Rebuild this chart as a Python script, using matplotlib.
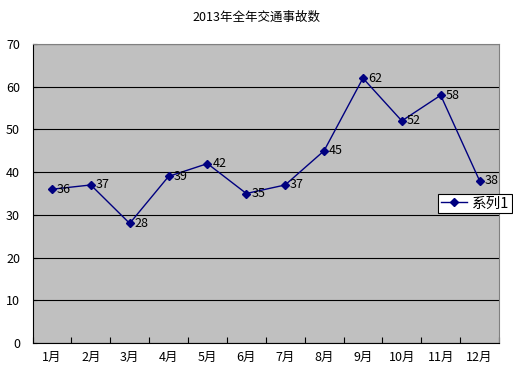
import matplotlib
matplotlib.use("Agg")
import matplotlib.pyplot as plt
import numpy as np

plt.rcParams['font.family'] = ['Noto Sans CJK SC', 'DejaVu Sans']

months = ['1月', '2月', '3月', '4月', '5月', '6月', '7月', '8月', '9月', '10月', '11月', '12月']
values = [36, 37, 28, 39, 42, 35, 37, 45, 62, 52, 58, 38]
series_name = '系列1'
title = '2013年全年交通事故数'

fig = plt.figure(figsize=(5.13, 3.79), dpi=100)
ax = fig.add_axes([32.5/513, 1-343/379, (499-32.5)/513, (343-44)/379])
ax.set_facecolor('#C0C0C0')

x = np.arange(len(months)) + 0.5
line, = ax.plot(x, values, color='#000080', marker='D', markersize=4, linewidth=1.0, label=series_name, zorder=3)
for xi, v in zip(x, values):
    ax.annotate(str(v), (xi, v), xytext=(3.5, 0), textcoords='offset points', ha='left', va='center', fontsize=9, color='black', zorder=4)

ax.set_xlim(0, 12)
ax.set_ylim(0, 70)
ax.set_yticks(range(0, 71, 10))
ax.yaxis.grid(True, color='black', linewidth=0.8)
ax.set_axisbelow(True)
ax.set_xticks(range(0, 13))
ax.set_xticklabels([])
ax.set_xticks(x, minor=True)
ax.set_xticklabels(months, minor=True)
ax.tick_params(axis='x', which='major', direction='in', length=4, color='black')
ax.tick_params(axis='x', which='minor', length=0, pad=6, labelsize=9)
ax.tick_params(axis='y', direction='in', length=3, pad=9, labelsize=9)
ax.spines['left'].set_color('black')
ax.spines['bottom'].set_color('black')
ax.spines['top'].set_color('#808080')
ax.spines['right'].set_color('#808080')

fig.text(256/513, 1-17/379, title, ha='center', va='center', fontsize=9)

leg = fig.legend(handles=[line], loc='center', bbox_to_anchor=(475/513, 1-203.5/379), fontsize=10.5, frameon=True, fancybox=False, edgecolor='black', framealpha=1, borderpad=0.2, handlelength=1.8, handletextpad=0.3, borderaxespad=0)
leg.get_frame().set_linewidth(0.8)

fig.savefig('out.png', dpi=100)
